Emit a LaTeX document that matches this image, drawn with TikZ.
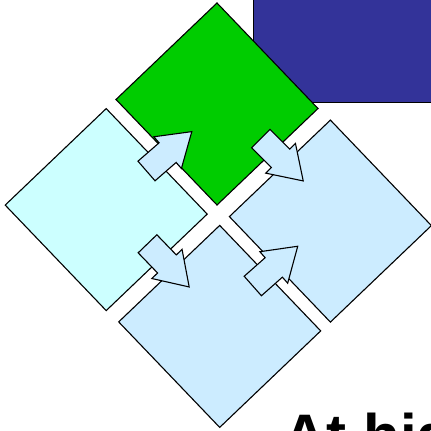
\documentclass[tikz,border=0pt]{standalone}
\usepackage{fontspec}
\setsansfont{Liberation Sans}
\definecolor{slateblue}{RGB}{51,51,153}
\definecolor{leafgreen}{RGB}{0,204,0}
\definecolor{paleaqua}{RGB}{204,255,255}
\definecolor{paleblue}{RGB}{204,236,255}
\tikzset{
	tile/.style={draw=black, line join=miter},
	pics/tile/.style={code={\path[tile,#1] (0,101) -- (-101,4.5) -- (0,-101) -- (101,-4.5) -- cycle;}},
	pics/flow/.style={code={\path[tile, fill=paleblue] (0,-13) -- (28,-13) -- (28,-21) -- (60,0) -- (28,21) -- (28,13) -- (0,13) -- cycle;}}
}
\begin{document}
\begin{tikzpicture}[x=1pt, y=1pt, line width=1.1pt]
	\useasboundingbox (0,0) rectangle (431,431);
	\clip (0,0) rectangle (431,431);
	\fill[white] (0,0) rectangle (431,431);
	% blue block behind the top tile
	\draw[fill=slateblue, line width=1pt] (253.3,328.7) rectangle (445,445);
	% the four tiles
	\pic at (217,327) {tile={fill=leafgreen}};
	\pic at (106.2,221.4) {tile={fill=paleaqua}};
	\pic at (330.4,209.9) {tile={fill=paleblue}};
	\pic at (219.7,104.6) {tile={fill=paleblue}};
	% arrows between the tiles
	\pic[rotate=41] at (146.5,260) {flow};
	\pic[rotate=-45] at (260.8,292.5) {flow};
	\pic[rotate=-46] at (147.5,187.2) {flow};
	\pic[rotate=41.5] at (252.8,145) {flow};
	\node[anchor=base west, inner sep=0pt, font=\sffamily\bfseries\fontsize{60}{72}\selectfont] (caption) at (283,-25) {At hig};
\end{tikzpicture}
\end{document}
